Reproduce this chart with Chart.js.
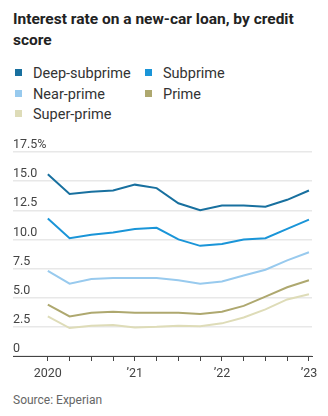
<!DOCTYPE html>
<html>
<head>
<meta charset="utf-8">
<script src="https://cdn.jsdelivr.net/npm/chart.js@4"></script>
<style>
  body { margin: 0; width: 328px; height: 416px; background: #fff; font-family: Roboto, "Noto Sans", sans-serif; position: relative; overflow: hidden; }
  #title { position: absolute; left: 13px; top: 9px; width: 300px; font-size: 15.5px; font-weight: 700; line-height: 21px; color: #222; }
  #legend { position: absolute; left: 15px; top: 65px; width: 310px; font-size: 14.5px; color: #333; }
  .item { position: absolute; white-space: nowrap; }
  .sw { display: inline-block; width: 7px; height: 7px; margin-right: 11px; vertical-align: 2px; }
  #box { position: absolute; left: 0; top: 120px; width: 328px; height: 266px; }
  #source { position: absolute; left: 13px; top: 393px; font-size: 12px; color: #666; }
</style>
</head>
<body>
<div id="title">Interest rate on a new-car loan, by credit score</div>
<div id="legend"></div>
<div id="box"><canvas id="chart"></canvas></div>
<div id="source">Source: Experian</div>
<script>
// quarterly, Q1 2020 .. Q1 2023
const quarters = [0, 1, 2, 3, 4, 5, 6, 7, 8, 9, 10, 11, 12];
const yearLabels = { 0: "2020", 4: "\u201921", 8: "\u201922", 12: "\u201923" };

const seriesNames = ["Deep-subprime", "Subprime", "Near-prime", "Prime", "Super-prime"];
const seriesColors = ["#18709f", "#1a95d8", "#98caee", "#aea86f", "#dedcb8"];

const deepSubprime = [15.6, 13.9, 14.1, 14.2, 14.7, 14.4, 13.1, 12.5, 12.9, 12.9, 12.8, 13.4, 14.2];
const subprime     = [11.8, 10.1, 10.4, 10.6, 10.9, 11.0, 10.0, 9.45, 9.6, 10.0, 10.1, 10.9, 11.7];
const nearPrime    = [7.3, 6.2, 6.6, 6.7, 6.7, 6.7, 6.5, 6.2, 6.4, 6.9, 7.4, 8.2, 8.9];
const prime        = [4.4, 3.4, 3.7, 3.8, 3.7, 3.7, 3.7, 3.6, 3.8, 4.3, 5.1, 5.9, 6.5];
const superPrime   = [3.4, 2.4, 2.6, 2.65, 2.45, 2.5, 2.6, 2.55, 2.8, 3.3, 4.0, 4.85, 5.3];

const yTicks = [0, 2.5, 5, 7.5, 10, 12.5, 15, 17.5];

const allSeries = [deepSubprime, subprime, nearPrime, prime, superPrime];

// legend, two columns
const legend = document.getElementById("legend");
seriesNames.forEach((name, i) => {
  const el = document.createElement("div");
  el.className = "item";
  el.style.left = (i % 2 === 0 ? 0 : 130) + "px";
  el.style.top = (Math.floor(i / 2) * 20.5) + "px";
  el.innerHTML = `<span class="sw" style="background:${seriesColors[i]}"></span>${name}`;
  legend.appendChild(el);
});

const ctx = document.getElementById("chart").getContext("2d");
new Chart(ctx, {
  type: "line",
  data: {
    datasets: allSeries.map((vals, i) => ({
      label: seriesNames[i],
      data: vals.map((v, j) => ({ x: quarters[j], y: v })),
      borderColor: seriesColors[i],
      borderWidth: 2,
      pointRadius: 0,
      tension: 0,
    })),
  },
  options: {
    responsive: true,
    maintainAspectRatio: false,
    animation: false,
    layout: { padding: { left: 13, right: 16, top: 32, bottom: 0 } },
    plugins: { legend: { display: false }, tooltip: { enabled: false } },
    scales: {
      x: {
        type: "linear",
        min: -1.6,
        max: 12.14,
        afterBuildTicks: (axis) => { axis.ticks = quarters.map((q) => ({ value: q })); },
        grid: { drawOnChartArea: false, drawTicks: true, tickLength: 5, tickColor: "#444" },
        border: { color: "#444", width: 1 },
        ticks: {
          autoSkip: false,
          maxRotation: 0,
          padding: 5,
          color: "#444",
          font: { family: "Roboto", size: 12.5 },
          callback: (v) => yearLabels[v] || "",
        },
      },
      y: {
        min: 0,
        max: 17.5,
        afterBuildTicks: (axis) => { axis.ticks = yTicks.map((v) => ({ value: v })); },
        grid: { color: "#e8e8e8", lineWidth: 1.5, drawTicks: false },
        border: { display: false },
        ticks: {
          mirror: true,
          padding: 0,
          labelOffset: -7,
          color: "#444",
          font: { family: "Roboto", size: 12.5 },
          callback: (v) => v === 0 ? "0" : v === 17.5 ? "17.5%" : v.toFixed(1),
        },
      },
    },
  },
});
</script>
</body>
</html>
